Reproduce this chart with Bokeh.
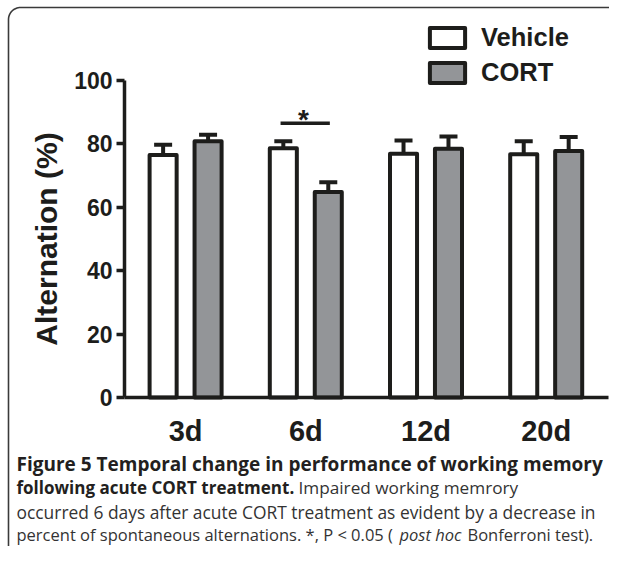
import math
from bokeh.plotting import figure
from bokeh.models import (ColumnDataSource, Whisker, TeeHead, Legend, LegendItem,
                          FixedTicker, Range1d)
from bokeh.core.properties import value
from bokeh.embed import file_html
from bokeh.resources import INLINE

# ---- data ----
days = ["3d", "6d", "12d", "20d"]
vehicle_mean = [76.5, 78.6, 76.9, 76.7]
vehicle_sem = [3.2, 2.2, 4.2, 4.1]
cort_mean = [80.8, 64.8, 78.5, 77.8]
cort_sem = [2.1, 3.1, 3.8, 4.4]
y_ticks = [0, 20, 40, 60, 80, 100]
sig_level = 86.5
series_names = ["Vehicle", "CORT"]

caption_bold_1 = "Figure 5 Temporal change in performance of working memory"
caption_bold_2 = "following acute CORT treatment."
caption_reg_2 = "Impaired working memrory"
caption_reg_3 = "occurred 6 days after acute CORT treatment as evident by a decrease in"
caption_reg_4a = "percent of spontaneous alternations. *, P < 0.05 ("
caption_ital_4 = "post hoc"
caption_reg_4b = "Bonferroni test)."

# ---- layout ----
W, H = 609, 546
group_x = list(range(1, len(days) + 1))
off = 0.187
bw = 0.225
INK = "#1d1d1b"
GRAY = "#939598"
X_AXIS_POS = 0.4917

src_v = ColumnDataSource(dict(
    x=[g - off for g in group_x], top=vehicle_mean,
    upper=[m + s for m, s in zip(vehicle_mean, vehicle_sem)],
    lower=[m - s for m, s in zip(vehicle_mean, vehicle_sem)]))
src_c = ColumnDataSource(dict(
    x=[g + off for g in group_x], top=cort_mean,
    upper=[m + s for m, s in zip(cort_mean, cort_sem)],
    lower=[m - s for m, s in zip(cort_mean, cort_sem)]))

p = figure(width=W, height=H, x_range=Range1d(-0.53993, 4.52662), y_range=Range1d(-47.003, 125.237),
           output_backend="svg", toolbar_location=None,
           min_border_left=0, min_border_right=0, min_border_top=0, min_border_bottom=0)
p.extra_x_ranges = {"px": Range1d(0, W)}
p.extra_y_ranges = {"px": Range1d(H, 0)}
p.outline_line_color = None
p.xgrid.visible = False
p.ygrid.visible = False

# rounded figure panel border (open to the right and bottom, as in the reference crop)
R, BX, BY = 12, 8, 7
arc = [math.pi + k * (math.pi / 2) / 16 for k in range(17)]
border_x = [BX] + [BX + R + R * math.cos(a) for a in arc] + [W + 10]
border_y = [H + 10] + [BY + R + R * math.sin(a) for a in arc] + [BY]
p.line(border_x, border_y, x_range_name="px", y_range_name="px",
       line_color="#3a3a3a", line_width=1.6)

veh = p.vbar(x="x", top="top", width=bw, source=src_v, fill_color="white",
             line_color=INK, line_width=4, line_join="round")
cort = p.vbar(x="x", top="top", width=bw, source=src_c, fill_color=GRAY,
              line_color=INK, line_width=4, line_join="round")

for src in (src_v, src_c):
    w = Whisker(base="x", upper="upper", lower="lower", source=src,
                line_width=4, line_color=INK,
                upper_head=TeeHead(size=18, line_width=4, line_color=INK),
                lower_head=TeeHead(size=18, line_width=4, line_color=INK))
    p.add_layout(w)

# significance marker between 6d groups
p.segment(x0=[1.79], y0=[sig_level], x1=[2.2], y1=[sig_level], line_width=3.5, line_color=INK)
p.text(x=[1.98], y=[sig_level + 1.2], text=["*"], text_align="center", text_baseline="alphabetic",
       text_font=value("Liberation Sans"), text_font_size="28px", text_font_style="bold",
       text_color=INK)

# axes (drawn at fixed data locations so that the frame spans the whole canvas)
p.xaxis.fixed_location = 0
p.xaxis.bounds = (X_AXIS_POS, 4.518)
p.xaxis.ticker = FixedTicker(ticks=group_x)
p.xaxis.major_label_overrides = {g: d for g, d in zip(group_x, days)}
p.xaxis.major_tick_line_color = None
p.xaxis.minor_tick_line_color = None
p.xaxis.major_tick_out = 0
p.xaxis.major_tick_in = 0
p.xaxis.axis_line_width = 3.5
p.xaxis.axis_line_color = INK
p.xaxis.major_label_standoff = 17
p.xaxis.major_label_text_font = "Liberation Sans"
p.xaxis.major_label_text_font_style = "bold"
p.xaxis.major_label_text_font_size = "29px"
p.xaxis.major_label_text_color = INK

p.yaxis.fixed_location = X_AXIS_POS
p.yaxis.bounds = (0, 100)
p.yaxis.ticker = FixedTicker(ticks=y_ticks)
p.yaxis.minor_tick_line_color = None
p.yaxis.major_tick_in = 0
p.yaxis.major_tick_out = 8
p.yaxis.major_tick_line_width = 3.5
p.yaxis.major_tick_line_color = INK
p.yaxis.axis_line_width = 3.5
p.yaxis.axis_line_color = INK
p.yaxis.major_label_standoff = 4
p.yaxis.major_label_text_font = "Liberation Sans"
p.yaxis.major_label_text_font_style = "bold"
p.yaxis.major_label_text_font_size = "23px"
p.yaxis.major_label_text_color = INK
p.yaxis.axis_label = "Alternation (%)"
p.yaxis.axis_label_text_font = "Liberation Sans"
p.yaxis.axis_label_text_font_style = "bold"
p.yaxis.axis_label_text_font_size = "30px"
p.yaxis.axis_label_text_color = INK
p.yaxis.axis_label_standoff = 8

legend = Legend(items=[LegendItem(label=series_names[0], renderers=[veh]),
                       LegendItem(label=series_names[1], renderers=[cort])],
                location=(425, 459), glyph_width=44, glyph_height=25,
                label_text_font="Liberation Sans", label_text_font_style="bold",
                label_text_font_size="25.5px", label_text_color=INK, label_standoff=12,
                label_height=25, spacing=6, padding=0, margin=0,
                border_line_color=None, background_fill_alpha=0)
p.add_layout(legend)

# caption, positioned in canvas pixels
def cap(text, x, y, style="normal", size="17px", color="#333333"):
    p.text(x=[x], y=[y], text=[text], x_range_name="px", y_range_name="px",
           text_font=value("Open Sans"), text_font_style=style, text_font_size=size,
           text_color=color, text_baseline="alphabetic", text_align="left")

cap(caption_bold_1, 16, 463, "bold", "19px", "#231f20")
cap(caption_bold_2, 16, 487, "bold", "17px", "#231f20")
cap(caption_reg_2, 298, 487, size="17.2px")
cap(caption_reg_3, 16, 511, size="17.4px")
cap(caption_reg_4a, 16, 534, size="16.5px")
cap(caption_ital_4, 399, 534, "italic", "16.5px")
cap(caption_reg_4b, 467, 534, size="16.5px")

open("out.html", "w").write(file_html(p, INLINE))
